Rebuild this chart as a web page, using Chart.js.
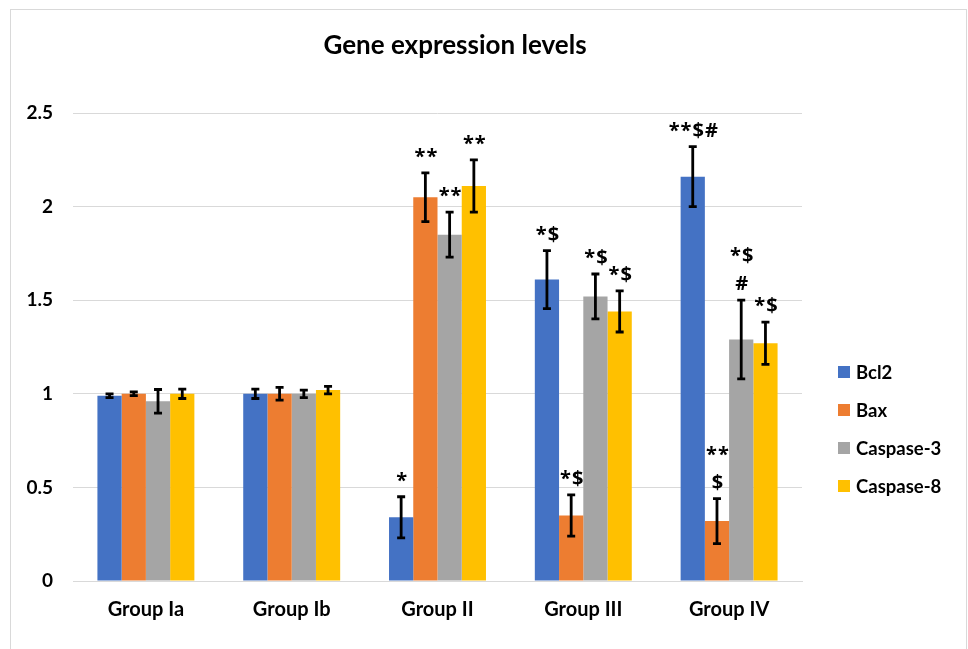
<!DOCTYPE html>
<html lang="en-US">
<head>
<meta charset="UTF-8">
<title>Gene expression levels</title>
<script src="https://cdn.jsdelivr.net/npm/chart.js@4.4.1/dist/chart.umd.min.js"></script>
<style>
    body { margin: 0; background: #fff; }
    canvas { display: block; }
</style>
</head>
<body>
<canvas id="myChart" width="968" height="649"></canvas>
<script>
    // groups on the x axis
    var groups = ['Group Ia', 'Group Ib', 'Group II', 'Group III', 'Group IV'];

    // mean values per gene
    var bcl2 = [0.99, 1.00, 0.34, 1.61, 2.16];
    var bax = [1.00, 1.00, 2.05, 0.35, 0.32];
    var casp3 = [0.96, 1.00, 1.85, 1.52, 1.29];
    var casp8 = [1.00, 1.02, 2.11, 1.44, 1.27];

    // error bar half-heights
    var bcl2Err = [0.01, 0.025, 0.11, 0.155, 0.16];
    var baxErr = [0.01, 0.034, 0.13, 0.11, 0.12];
    var casp3Err = [0.063, 0.02, 0.12, 0.12, 0.21];
    var casp8Err = [0.025, 0.02, 0.14, 0.11, 0.113];

    // significance marks ("\n" = second line)
    var bcl2Marks = ['', '', '*', '*$', '**$#'];
    var baxMarks = ['', '', '**', '*$', '**\n$'];
    var casp3Marks = ['', '', '**', '*$', '*$\n#'];
    var casp8Marks = ['', '', '**', '*$', '*$'];

    var yTicks = [0, 0.5, 1, 1.5, 2, 2.5];

    var FONT = 'Lato, "Open Sans", sans-serif';

    // white background + thin frame
    var framePlugin = {
        id: 'frame',
        beforeDraw: function (chart) {
            var ctx = chart.ctx;
            ctx.save();
            ctx.fillStyle = '#fff';
            ctx.fillRect(0, 0, chart.width, chart.height);
            ctx.strokeStyle = '#d9d9d9';
            ctx.lineWidth = 1;
            ctx.strokeRect(10.5, 9.5, 956, 700);
            ctx.restore();
        }
    };

    // title and legend drawn by hand so they sit where the original has them
    var textPlugin = {
        id: 'texts',
        afterDraw: function (chart) {
            var ctx = chart.ctx;
            ctx.save();
            ctx.fillStyle = '#000';
            ctx.font = 'bold 26px ' + FONT;
            ctx.textAlign = 'center';
            ctx.textBaseline = 'middle';
            ctx.fillText('Gene expression levels', 455, 46);

            ctx.font = 'bold 18.5px ' + FONT;
            ctx.textAlign = 'left';
            chart.data.datasets.forEach(function (ds, i) {
                var y = 372 + i * 38;
                ctx.fillStyle = ds.backgroundColor;
                ctx.fillRect(838, y - 6, 12, 12);
                ctx.fillStyle = '#000';
                ctx.fillText(ds.label, 856, y + 1);
            });
            ctx.restore();
        }
    };

    // error bars and significance marks
    var errorPlugin = {
        id: 'errors',
        afterDatasetsDraw: function (chart) {
            var ctx = chart.ctx;
            var yScale = chart.scales.y;
            ctx.save();
            chart.data.datasets.forEach(function (ds, i) {
                var meta = chart.getDatasetMeta(i);
                meta.data.forEach(function (bar, j) {
                    var v = ds.data[j];
                    var e = ds.errors[j];
                    var top = yScale.getPixelForValue(v + e);
                    var bot = yScale.getPixelForValue(v - e);
                    ctx.strokeStyle = '#000';
                    ctx.lineWidth = 2.8;
                    ctx.beginPath();
                    ctx.moveTo(bar.x, top);
                    ctx.lineTo(bar.x, bot);
                    ctx.moveTo(bar.x - 4, top);
                    ctx.lineTo(bar.x + 4, top);
                    ctx.moveTo(bar.x - 4, bot);
                    ctx.lineTo(bar.x + 4, bot);
                    ctx.stroke();

                    var mark = ds.marks[j];
                    if (mark) {
                        var lines = mark.split('\n');
                        ctx.fillStyle = '#000';
                        ctx.font = 'bold 20px "Open Sans", Lato, sans-serif';
                        ctx.textAlign = 'center';
                        ctx.textBaseline = 'alphabetic';
                        ctx.letterSpacing = '1px';
                        for (var k = 0; k < lines.length; k++) {
                            var base = top - 10 - (lines.length - 1 - k) * 28;
                            ctx.fillText(lines[k], bar.x + 1, base);
                        }
                    }
                });
            });
            ctx.restore();
        }
    };

    var ctx = document.getElementById('myChart').getContext('2d');
    var myChart = new Chart(ctx, {
        type: 'bar',
        data: {
            labels: groups,
            datasets: [
                { label: 'Bcl2', data: bcl2, errors: bcl2Err, marks: bcl2Marks, backgroundColor: '#4472C4' },
                { label: 'Bax', data: bax, errors: baxErr, marks: baxMarks, backgroundColor: '#ED7D31' },
                { label: 'Caspase-3', data: casp3, errors: casp3Err, marks: casp3Marks, backgroundColor: '#A5A5A5' },
                { label: 'Caspase-8', data: casp8, errors: casp8Err, marks: casp8Marks, backgroundColor: '#FFC000' }
            ]
        },
        options: {
            responsive: false,
            animation: false,
            datasets: {
                bar: { categoryPercentage: 0.665, barPercentage: 1.0, borderWidth: 0 }
            },
            layout: { padding: { left: 0, top: 113, right: 166, bottom: 0 } },
            plugins: {
                legend: { display: false },
                title: { display: false },
                tooltip: { enabled: false }
            },
            scales: {
                x: {
                    grid: { display: false, drawTicks: false },
                    border: { display: true, color: '#d9d9d9', width: 1 },
                    ticks: { color: '#000', padding: 17, font: { family: FONT, size: 20, weight: 'bold' } },
                    afterFit: function (scale) { scale.height = 68; }
                },
                y: {
                    min: 0,
                    max: 2.5,
                    afterBuildTicks: function (scale) {
                        scale.ticks = yTicks.map(function (v) { return { value: v }; });
                    },
                    grid: { color: '#d9d9d9', lineWidth: 1, drawTicks: false },
                    border: { display: false },
                    ticks: {
                        color: '#000',
                        padding: 20,
                        font: { family: FONT, size: 19, weight: 'bold' },
                        callback: function (value) { return String(value); }
                    },
                    afterFit: function (scale) { scale.width = 73; }
                }
            }
        },
        plugins: [framePlugin, errorPlugin, textPlugin]
    });
</script>
</body>
</html>
